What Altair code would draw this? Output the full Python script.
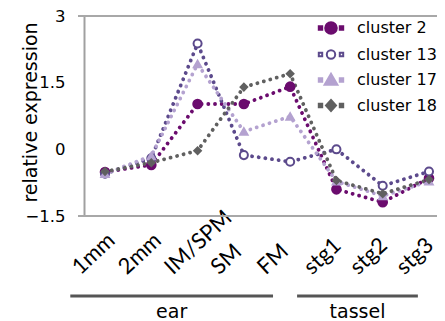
import altair as alt
import pandas as pd

stages = ["1mm", "2mm", "IM/SPM", "SM", "FM", "stg1", "stg2", "stg3"]
clusters = ["cluster 2", "cluster 13", "cluster 17", "cluster 18"]
cluster2 = [-0.51, -0.35, 1.02, 1.02, 1.41, -0.90, -1.19, -0.65]
cluster13 = [-0.55, -0.20, 2.38, -0.13, -0.28, 0.00, -0.82, -0.50]
cluster17 = [-0.55, -0.15, 1.92, 0.40, 0.74, -0.72, -1.05, -0.72]
cluster18 = [-0.50, -0.30, -0.03, 1.40, 1.70, -0.70, -1.00, -0.68]
groups = ["ear", "tassel"]
group_start = [-0.75, 4.15]
group_end = [3.63, 6.76]
y_ticks = [3, 1.5, 0, -1.5]
frame_lines = [3, -1.5]

colors = ["#6b0c6e", "#5c4a8c", "#b4a2d0", "#606060"]
fills = ["#6b0c6e", "white", "#b4a2d0", "#606060"]
shapes = ["circle", "circle", "triangle-up", "diamond"]
sizes = [75, 45, 115, 70]


def sq():
    return "M-1.22,-0.17 h0.34 v0.34 h-0.34 Z M0.88,-0.17 h0.34 v0.34 h-0.34 Z "


def circ(r):
    return ("M%.2f,0 A%.2f,%.2f 0 1,1 %.2f,0 A%.2f,%.2f 0 1,1 %.2f,0 Z"
            % (-r, r, r, r, r, r, -r))


legend_paths = [
    sq() + circ(0.58),
    sq() + circ(0.42),
    sq() + "M0,-0.62 L0.64,0.48 L-0.64,0.48 Z",
    sq() + "M0,-0.55 L0.5,0 L0,0.55 L-0.5,0 Z",
]

series = [cluster2, cluster13, cluster17, cluster18]
rows = []
for c, vals in zip(clusters, series):
    for i, v in enumerate(vals):
        rows.append({"cluster": c, "label": c, "idx": i, "value": v})
df = pd.DataFrame(rows)

W, H = 353, 200
label_expr = "[" + ",".join("'" + s + "'" for s in stages) + "][datum.value]"

x_enc = alt.X(
    "idx:Q",
    scale=alt.Scale(domain=[-0.454, 7.173], nice=False, zero=False),
    axis=alt.Axis(
        values=list(range(len(stages))), labelExpr=label_expr, title=None,
        grid=False, ticks=False, domain=False, labelAngle=-43, labelAlign="left",
        labelBaseline="alphabetic", labelOffset=-25, labelPadding=59,
        labelFont="Lato", labelFontSize=22, labelColor="black", labelOverlap=False,
        labelBound=False, labelFlush=False,
    ),
)
y_enc = alt.Y(
    "value:Q",
    scale=alt.Scale(domain=[-1.5, 3], nice=False, zero=False),
    axis=alt.Axis(
        values=y_ticks, title="relative expression", grid=False, ticks=False,
        domain=True, domainColor="#a0a0a0", domainWidth=2, labelPadding=19,
        labelFont="DejaVu Sans", labelFontSize=16.5, labelColor="black",
        labelExpr="datum.value < 0 ? '\u2212' + format(-datum.value, '') : format(datum.value, '')",
        titleFont="DejaVu Sans", titleFontSize=19, titleFontWeight="normal",
        titleColor="black", titleBaseline="middle", titleAngle=270,
        titleX=-54, titleY=96, labelFlush=False,
    ),
)

base = alt.Chart(df)

stroke_scale = alt.Scale(domain=clusters, range=colors)

lines = base.mark_line(strokeDash=[0.1, 6.6], strokeCap="round", strokeWidth=3.8).encode(
    x=x_enc, y=y_enc,
    stroke=alt.Stroke("cluster:N", scale=stroke_scale, legend=None),
    detail="cluster:N",
)

points = base.mark_point(opacity=1, strokeWidth=2).encode(
    x="idx:Q", y="value:Q",
    stroke=alt.Stroke("cluster:N", scale=stroke_scale, legend=None),
    fill=alt.Fill("cluster:N", scale=alt.Scale(domain=clusters, range=fills), legend=None),
    shape=alt.Shape("cluster:N", scale=alt.Scale(domain=clusters, range=shapes), legend=None),
    size=alt.Size("cluster:N", scale=alt.Scale(domain=clusters, range=sizes), legend=None),
)

leg = alt.Legend(
    title=None, orient="none", legendX=236, legendY=1, symbolSize=400,
    symbolOpacity=1, symbolStrokeWidth=2, labelFont="DejaVu Sans",
    labelFontSize=16, labelColor="black", labelOffset=15, rowPadding=5.5,
    labelLimit=300,
)
legend_layer = base.mark_point(opacity=0, filled=False).encode(
    x="idx:Q", y="value:Q",
    shape=alt.Shape("label:N", scale=alt.Scale(domain=clusters, range=legend_paths), legend=leg),
    stroke=alt.Stroke("label:N", scale=alt.Scale(domain=clusters, range=colors), legend=leg),
    fill=alt.Fill("label:N", scale=alt.Scale(domain=clusters, range=fills), legend=leg),
)

frame = alt.Chart(pd.DataFrame({"y": frame_lines})).mark_rule(
    color="#a8a8a8", strokeWidth=2
).encode(y="y:Q", x=alt.value(-6), x2=alt.value(W))

gdf = pd.DataFrame({"group": groups, "start": group_start, "end": group_end})
gdf["mid"] = (gdf["start"] + gdf["end"]) / 2
grule = alt.Chart(gdf).mark_rule(color="#555555", strokeWidth=3).encode(
    x="start:Q", x2="end:Q", y=alt.value(280)
)
gtext = alt.Chart(gdf).mark_text(
    font="DejaVu Sans", fontSize=19, color="black", baseline="alphabetic"
).encode(x="mid:Q", y=alt.value(302), text="group:N")

chart = alt.layer(frame, lines, points, legend_layer, grule, gtext).resolve_scale(
    shape="independent", fill="independent", stroke="independent", size="independent"
).properties(
    width=W, height=H,
    autosize=alt.AutoSizeParams(type="none"),
    padding={"left": 76, "top": 8, "right": 0, "bottom": 105},
).configure_view(stroke=None).configure(background="white")

chart.save("out.html", embed_options={"renderer": "svg", "actions": False})
